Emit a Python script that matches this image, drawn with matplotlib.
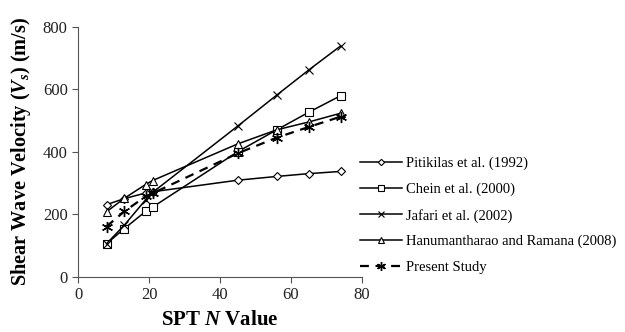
import matplotlib
matplotlib.use('Agg')
import matplotlib.pyplot as plt

plt.rcParams['font.family'] = 'Liberation Serif'
plt.rcParams['mathtext.fontset'] = 'custom'
plt.rcParams['mathtext.rm'] = 'Liberation Serif:bold'
plt.rcParams['mathtext.it'] = 'Liberation Serif:italic:bold'
plt.rcParams['mathtext.bf'] = 'Liberation Serif:bold'

# SPT N values and Vs (m/s) for each correlation
N = [8, 13, 19, 21, 45, 56, 65, 74]
pitikilas = [231, 250, 268, 272, 309, 321, 330, 337]
chein = [106, 154, 209, 223, 400, 470, 526, 579]
jafari = [106, 165, 246, 270, 482, 581, 661, 738]
hanumantharao = [208, 251, 295, 308, 425, 470, 495, 523]
present = [161, 209, 257, 267, 395, 445, 479, 512]

fig = plt.figure(figsize=(6.25, 3.32), dpi=100)
ax = fig.add_axes([0.125, 0.166, 0.454, 0.754])

kw = dict(color='black', linewidth=1.1, markerfacecolor='white', markeredgecolor='black',
          markeredgewidth=0.8)
ax.plot(N, pitikilas, marker='D', markersize=4, label='Pitikilas et al. (1992)', **kw)
ax.plot(N, chein, marker='s', markersize=5.5, label='Chein et al. (2000)', **kw)
ax.plot(N, jafari, marker='x', markersize=5.5, label='Jafari et al. (2002)', **kw)
ax.plot(N, hanumantharao, marker='^', markersize=5.5, label='Hanumantharao and Ramana (2008)', **kw)
ax.plot(N, present, marker=(6, 2, 0), markersize=8, linestyle=(0, (4, 3)),
        label='Present Study', color='black', linewidth=1.6, markeredgewidth=1.0)

ax.set_xlim(0, 80)
ax.set_ylim(0, 800)
ax.set_xticks([0, 20, 40, 60, 80])
ax.set_yticks([0, 200, 400, 600, 800])
ax.spines['top'].set_visible(False)
ax.spines['right'].set_visible(False)
for s in ('left', 'bottom'):
    ax.spines[s].set_color('#555555')
ax.tick_params(labelsize=12, length=4, color='#555555', labelcolor='#222222')

ax.set_xlabel('SPT $N$ Value', fontsize=15, fontweight='bold', labelpad=5)
ax.set_ylabel('Shear Wave Velocity ($V_{s}$) (m/s)', fontsize=14.6, fontweight='bold')
ax.yaxis.set_label_coords(-0.16, 0.5)

fig.legend(loc='center left', bbox_to_anchor=(0.566, 0.351), frameon=False, fontsize=10.5,
           handlelength=2.9, handletextpad=0.25, labelspacing=0.85, borderaxespad=0,
           markerscale=0.8)

fig.savefig('out.png', dpi=100)
